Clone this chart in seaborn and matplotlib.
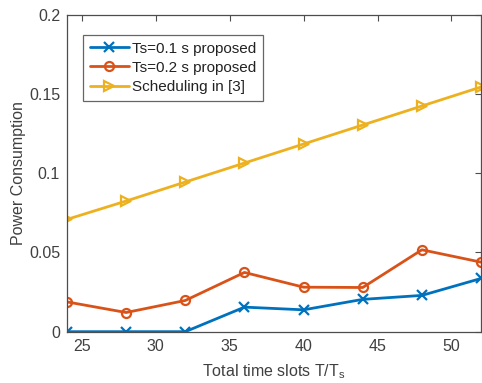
import matplotlib
matplotlib.use("Agg")
import matplotlib.pyplot as plt
import seaborn as sns
import pandas as pd

# Number of total time slots
slots = [24, 28, 32, 36, 40, 44, 48, 52]

# Power consumption per scheme
ts01_proposed = [0.0, 0.0, 0.0, 0.0155, 0.0138, 0.0204, 0.0229, 0.0336]
ts02_proposed = [0.0188, 0.0121, 0.0197, 0.0374, 0.0281, 0.0279, 0.0517, 0.0439]
scheduling_ref = [0.0709, 0.0825, 0.0945, 0.1065, 0.1185, 0.1305, 0.1425, 0.1545]

series_names = ["Ts=0.1 s proposed", "Ts=0.2 s proposed", "Scheduling in [3]"]
x_ticks = [25, 30, 35, 40, 45, 50]
y_ticks = [0, 0.05, 0.1, 0.15, 0.2]
y_ticklabels = ["0", "0.05", "0.1", "0.15", "0.2"]

df = pd.DataFrame({
    "slots": slots * 3,
    "power": ts01_proposed + ts02_proposed + scheduling_ref,
    "scheme": [n for n in series_names for _ in slots],
})

sns.set_style("white")
plt.rcParams["font.family"] = ["Liberation Sans", "DejaVu Sans"]

colors = ["#0072BD", "#D95319", "#EDB120"]
markers = ["x", "o", ">"]

fig = plt.figure(figsize=(4.82, 3.83), dpi=100)
ax = fig.add_axes([0.139, 0.134, 0.859, 0.827])

for name, col, mk in zip(series_names, colors, markers):
    sub = df[df["scheme"] == name]
    sns.lineplot(data=sub, x="slots", y="power", ax=ax, color=col, lw=2,
                 marker=mk, markersize=7.5 if mk != "o" else 6.5,
                 markerfacecolor="none" if mk != "x" else col,
                 markeredgecolor=col, markeredgewidth=1.6, label=name)

ax.set_xlim(24, 52)
ax.set_ylim(0, 0.2)
ax.set_xticks(x_ticks)
ax.set_yticks(y_ticks)
ax.set_yticklabels(y_ticklabels)

text_col = "#404040"
ax.tick_params(direction="in", length=4, width=0.8, colors="#4d4d4d",
               labelcolor=text_col, labelsize=11.5, top=True, right=True,
               pad=5)
for sp in ax.spines.values():
    sp.set_color("#4d4d4d")
    sp.set_linewidth(0.9)

ax.set_xlabel("Total time slots T/T$_\\mathregular{s}$", fontsize=11.5,
              color=text_col, labelpad=6)
ax.set_ylabel("Power Consumption", fontsize=11.5, color=text_col, labelpad=2)

leg = ax.legend(loc="upper left", bbox_to_anchor=(0.038, 0.937), fontsize=11,
                frameon=True, fancybox=False, edgecolor="#404040",
                handlelength=2.6, handletextpad=0.15, borderpad=0.45,
                labelspacing=0.33, borderaxespad=0)
leg.get_frame().set_linewidth(0.9)
for t in leg.get_texts():
    t.set_color("#222222")

fig.savefig("out.png", dpi=100)
